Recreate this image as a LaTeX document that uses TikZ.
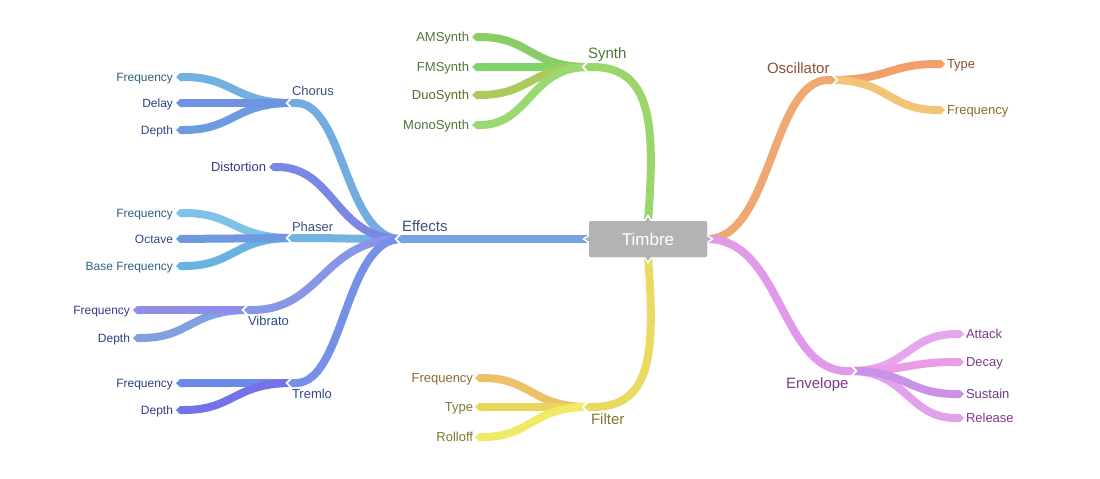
\documentclass[tikz,border=0pt]{standalone}
\usepackage{fontspec}
\setmainfont{Liberation Sans}
\usetikzlibrary{arrows.meta}
% link colours
\definecolor{cEff}{HTML}{79A1E6}
\definecolor{cCho}{HTML}{72ACE0}
\definecolor{cDis}{HTML}{7B87E3}
\definecolor{cPha}{HTML}{74B2E2}
\definecolor{cVib}{HTML}{8796E6}
\definecolor{cTre}{HTML}{7690E8}
\definecolor{cChoA}{HTML}{72B0E0}
\definecolor{cChoB}{HTML}{6F92E2}
\definecolor{cChoC}{HTML}{6D9BE0}
\definecolor{cPhaA}{HTML}{7EC3E6}
\definecolor{cPhaB}{HTML}{6E98E0}
\definecolor{cPhaC}{HTML}{6AB2E0}
\definecolor{cVibA}{HTML}{8F8EE8}
\definecolor{cVibB}{HTML}{80A0E2}
\definecolor{cTreA}{HTML}{6A8AEC}
\definecolor{cTreB}{HTML}{7372E8}
\definecolor{cSyn}{HTML}{9AD66A}
\definecolor{cSynA}{HTML}{8ACD66}
\definecolor{cSynB}{HTML}{80D46A}
\definecolor{cSynC}{HTML}{ACC95E}
\definecolor{cSynD}{HTML}{9AD872}
\definecolor{cFil}{HTML}{E9DB62}
\definecolor{cFilA}{HTML}{EDC168}
\definecolor{cFilB}{HTML}{E8D65C}
\definecolor{cFilC}{HTML}{EFEB66}
\definecolor{cOsc}{HTML}{F0A872}
\definecolor{cOscA}{HTML}{F0A068}
\definecolor{cOscB}{HTML}{F2C476}
\definecolor{cEnv}{HTML}{E19AE9}
\definecolor{cEnvA}{HTML}{E6A6EE}
\definecolor{cEnvB}{HTML}{EA9CE6}
\definecolor{cEnvC}{HTML}{C992E8}
\definecolor{cEnvD}{HTML}{E3A0EC}
\definecolor{cRoot}{HTML}{B3B3B3}
% text colours
\definecolor{tBlueA}{HTML}{2E6080}
\definecolor{tBlueB}{HTML}{2C3E85}
\definecolor{tBlueC}{HTML}{2C4A85}
\definecolor{tBlueD}{HTML}{3A5080}
\definecolor{tPurp}{HTML}{353A85}
\definecolor{tGreen}{HTML}{4F7535}
\definecolor{tOlive}{HTML}{5A6A25}
\definecolor{tFil}{HTML}{7F7530}
\definecolor{tFilA}{HTML}{8A6A30}
\definecolor{tOsc}{HTML}{8A5030}
\definecolor{tOscB}{HTML}{8A6A30}
\definecolor{tEnv}{HTML}{7D3A88}
\definecolor{tEnvC}{HTML}{6A3A88}
\tikzset{
  lk/.style={line width=8pt,line cap=butt,-{Triangle Cap[length=4pt]}},
  chev/.style={draw=white,line width=1.8pt,line join=miter},
  lab/.style={inner sep=0pt,outer sep=0pt},
  f12/.style={lab,font=\fontsize{12}{14}\selectfont},
  f13/.style={lab,font=\fontsize{13}{15}\selectfont},
  f15/.style={lab,font=\fontsize{15}{17}\selectfont},
  tipr/.style={fill=cRoot,draw=white,line width=1.5pt,line join=miter},
  rootbox/.style={fill=cRoot,minimum width=118pt,minimum height=36pt,inner sep=0pt,
    rounded corners=2pt,text=white,font=\fontsize{17}{19}\selectfont}
}
\newcommand\chevl[1]{\draw[chev] (#1) ++(4.1,5.5) -- ++(-5.5,-5.5) -- ++(5.5,-5.5);}
\newcommand\chevr[1]{\draw[chev] (#1) ++(-4.1,5.5) -- ++(5.5,-5.5) -- ++(-5.5,-5.5);}
\begin{document}
\begin{tikzpicture}[x=1pt,y=-1pt]
\useasboundingbox (0,0) rectangle (1100,479);
% root
\node[rootbox] (timbre) at (648,239) {Timbre};
% junction tips (parent link ends) and child starts
\coordinate (jEff) at (397,239);  \coordinate (sEff) at (401,239);
\coordinate (jCho) at (288,103);  \coordinate (sCho) at (292,103);
\coordinate (jPha) at (288,238);  \coordinate (sPha) at (292,238);
\coordinate (jVib) at (244,310);  \coordinate (sVib) at (248,310);
\coordinate (jTre) at (288,383);  \coordinate (sTre) at (292,383);
\coordinate (jSyn) at (584,67);   \coordinate (sSyn) at (588,67);
\coordinate (jFil) at (584,407);  \coordinate (sFil) at (588,407);
\coordinate (jOsc) at (836,80);   \coordinate (sOsc) at (832,80);
\coordinate (jEnv) at (855,371);  \coordinate (sEnv) at (851,371);
% leaf ends
\coordinate (eDis) at (269,167);
\coordinate (eChoA) at (176,77);
\coordinate (eChoB) at (176,103);
\coordinate (eChoC) at (176,130);
\coordinate (ePhaA) at (176,213);
\coordinate (ePhaB) at (176,239);
\coordinate (ePhaC) at (176,266);
\coordinate (eVibA) at (133,310);
\coordinate (eVibB) at (133,338);
\coordinate (eTreA) at (176,383);
\coordinate (eTreB) at (176,410);
\coordinate (eSynA) at (472,37);
\coordinate (eSynB) at (472,67);
\coordinate (eSynC) at (472,95);
\coordinate (eSynD) at (472,125);
\coordinate (eFilA) at (475,378);
\coordinate (eFilB) at (475,407);
\coordinate (eFilC) at (475,437);
\coordinate (eOscA) at (945,64);
\coordinate (eOscB) at (945,110);
\coordinate (eEnvA) at (964,334);
\coordinate (eEnvB) at (964,362);
\coordinate (eEnvC) at (964,394);
\coordinate (eEnvD) at (964,418);
% level 3 links
\draw[lk,draw=cChoA] (sCho) .. controls +(-58,0) and +(58,0) .. (eChoA);
\draw[lk,draw=cChoC] (sCho) .. controls +(-58,0) and +(58,0) .. (eChoC);
\draw[lk,draw=cChoB] (sCho) -- (eChoB);
\draw[lk,draw=cPhaA] (sPha) .. controls +(-58,0) and +(58,0) .. (ePhaA);
\draw[lk,draw=cPhaC] (sPha) .. controls +(-58,0) and +(58,0) .. (ePhaC);
\draw[lk,draw=cPhaB] (sPha) -- (ePhaB);
\draw[lk,draw=cVibB] (sVib) .. controls +(-57,0) and +(57,0) .. (eVibB);
\draw[lk,draw=cVibA] (sVib) -- (eVibA);
\draw[lk,draw=cTreA] (sTre) -- (eTreA);
\draw[lk,draw=cTreB] (sTre) .. controls +(-58,0) and +(58,0) .. (eTreB);
% level 2 links
\draw[lk,draw=cSynA] (sSyn) .. controls +(-58,0) and +(58,0) .. (eSynA);
\draw[lk,draw=cSynB] (sSyn) -- (eSynB);
\draw[lk,draw=cSynC] (sSyn) .. controls +(-58,0) and +(58,0) .. (eSynC);
\draw[lk,draw=cSynD] (sSyn) .. controls +(-58,0) and +(58,0) .. (eSynD);
\draw[lk,draw=cFilA] (sFil) .. controls +(-56,0) and +(56,0) .. (eFilA);
\draw[lk,draw=cFilB] (sFil) -- (eFilB);
\draw[lk,draw=cFilC] (sFil) .. controls +(-56,0) and +(56,0) .. (eFilC);
\draw[lk,draw=cOscA] (sOsc) .. controls +(56,0) and +(-56,0) .. (eOscA);
\draw[lk,draw=cOscB] (sOsc) .. controls +(56,0) and +(-56,0) .. (eOscB);
\draw[lk,draw=cEnvA] (sEnv) .. controls +(56,0) and +(-56,0) .. (eEnvA);
\draw[lk,draw=cEnvB] (sEnv) .. controls +(56,0) and +(-56,0) .. (eEnvB);
\draw[lk,draw=cEnvD] (sEnv) .. controls +(56,0) and +(-56,0) .. (eEnvD);
\draw[lk,draw=cEnvC] (sEnv) .. controls +(56,0) and +(-56,0) .. (eEnvC);
\draw[lk,draw=cCho] (sEff) .. controls +(-56,0) and +(56,0) .. (jCho);
\draw[lk,draw=cPha] (sEff) .. controls +(-56,0) and +(56,0) .. (jPha);
\draw[lk,draw=cDis] (sEff) .. controls +(-66,0) and +(66,0) .. (eDis);
\draw[lk,draw=cVib] (sEff) .. controls +(-78,0) and +(78,0) .. (jVib);
\draw[lk,draw=cTre] (sEff) .. controls +(-56,0) and +(56,0) .. (jTre);
% level 1 links
\draw[lk,draw=cEff] (timbre.west) -- (jEff);
\draw[lk,draw=cSyn] (timbre.north) .. controls (656,120) and (650,67) .. (jSyn);
\draw[lk,draw=cFil] (timbre.south) .. controls (656,358) and (650,407) .. (jFil);
\draw[lk,draw=cOsc] (timbre.east) .. controls +(64,0) and +(-64,0) .. (jOsc);
\draw[lk,draw=cEnv] (timbre.east) .. controls +(74,0) and +(-74,0) .. (jEnv);
% junction separators
\chevl{jCho} \chevl{jPha} \chevl{jVib} \chevl{jTre}
\chevl{jEff} \chevl{jSyn} \chevl{jFil}
\chevr{jOsc} \chevr{jEnv}
% root tips
\filldraw[tipr] (591,234) -- (583.5,239) -- (591,244);
\filldraw[tipr] (705,234) -- (712.5,239) -- (705,244);
\filldraw[tipr] (643,223) -- (648,215.5) -- (653,223);
\filldraw[tipr] (643,255) -- (648,262.5) -- (653,255);
\node[rootbox] at (timbre) {Timbre};
% labels level 1
\node[f15,text=tBlueD,anchor=base west] (lEff) at (402,231.4) {Effects};
\node[f15,text=tGreen,anchor=base west] (lSyn) at (588,58.4) {Synth};
\node[f15,text=tFil,anchor=base west] (lFil) at (591,424.4) {Filter};
\node[f15,text=tOsc,anchor=base west] (lOsc) at (767,73.4) {Oscillator};
\node[f15,text=tEnv,anchor=base west] (lEnv) at (786,388.4) {Envelope};
% labels level 2 (effects)
\node[f13,text=tBlueD,anchor=base west] (lCho) at (292,95.6) {Chorus};
\node[f13,text=tPurp,anchor=base east] (lDis) at (266,171.6) {Distortion};
\node[f13,text=tBlueD,anchor=base west] (lPha) at (292,231.6) {Phaser};
\node[f13,text=tBlueC,anchor=base west] (lVib) at (248,325.6) {Vibrato};
\node[f13,text=tBlueC,anchor=base west] (lTre) at (292,398.6) {Tremlo};
% leaves effects
\node[f12,text=tBlueA,anchor=base east] (lChoA) at (173,81.3) {Frequency};
\node[f12,text=tBlueB,anchor=base east] (lChoB) at (173,107.3) {Delay};
\node[f12,text=tBlueC,anchor=base east] (lChoC) at (173,134.3) {Depth};
\node[f12,text=tBlueA,anchor=base east] (lPhaA) at (173,217.3) {Frequency};
\node[f12,text=tBlueC,anchor=base east] (lPhaB) at (173,243.3) {Octave};
\node[f12,text=tBlueA,anchor=base east] (lPhaC) at (173,270.3) {Base Frequency};
\node[f12,text=tPurp,anchor=base east] (lVibA) at (130,314.3) {Frequency};
\node[f12,text=tBlueB,anchor=base east] (lVibB) at (130,342.3) {Depth};
\node[f12,text=tBlueB,anchor=base east] (lTreA) at (173,387.3) {Frequency};
\node[f12,text=tPurp,anchor=base east] (lTreB) at (173,414.3) {Depth};
% leaves synth
\node[f13,text=tGreen,anchor=base east] (lSynA) at (469,41.6) {AMSynth};
\node[f13,text=tGreen,anchor=base east] (lSynB) at (469,71.6) {FMSynth};
\node[f13,text=tOlive,anchor=base east] (lSynC) at (469,99.6) {DuoSynth};
\node[f13,text=tGreen,anchor=base east] (lSynD) at (469,129.6) {MonoSynth};
% leaves filter
\node[f13,text=tFilA,anchor=base east] (lFilA) at (473,382.6) {Frequency};
\node[f13,text=tFil,anchor=base east] (lFilB) at (473,411.6) {Type};
\node[f13,text=tFil,anchor=base east] (lFilC) at (473,441.6) {Rolloff};
% leaves oscillator
\node[f13,text=tOsc,anchor=base west] (lOscA) at (947,68.6) {Type};
\node[f13,text=tOscB,anchor=base west] (lOscB) at (947,114.6) {Frequency};
% leaves envelope
\node[f13,text=tEnv,anchor=base west] (lEnvA) at (966,338.6) {Attack};
\node[f13,text=tEnv,anchor=base west] (lEnvB) at (966,366.6) {Decay};
\node[f13,text=tEnvC,anchor=base west] (lEnvC) at (966,398.6) {Sustain};
\node[f13,text=tEnv,anchor=base west] (lEnvD) at (966,422.6) {Release};
\end{tikzpicture}
\end{document}
